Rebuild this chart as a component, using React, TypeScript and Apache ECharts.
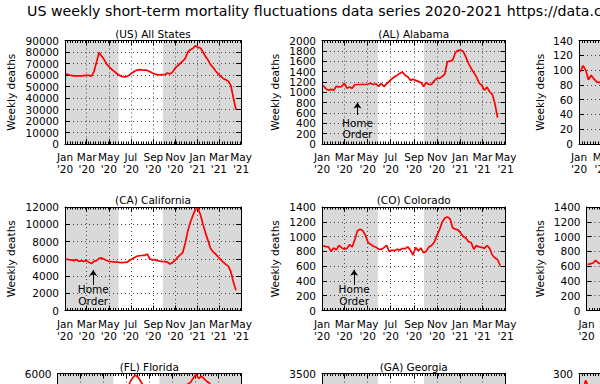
import React, { useEffect, useRef } from "react";
import * as echarts from "echarts";

const FONT = "DejaVu Sans";
const MAIN_TITLE =
  "US weekly short-term mortality fluctuations data series 2020-2021 https://data.cdc.gov/";
const MONTHS = ["Jan", "Feb", "Mar", "Apr", "May", "Jun", "Jul", "Aug", "Sep", "Oct", "Nov", "Dec"];

// x range and shading (dates)
const AXIS_START = "2020-01-01";
const AXIS_END = "2021-05-01";
const FIRST_WEEK = "2020-01-04";
const WHITE_START = "2020-05-28";
const WHITE_END = "2020-09-27";

// weekly deaths (week ending FIRST_WEEK, then every 7 days)
const US = [61000, 60200, 59600, 59300, 59200, 59300, 59200, 59400, 59600, 59700,
  59000, 63000, 71000, 79500, 76500, 73500, 69500, 67000, 65000, 63200,
  61300, 59700, 58800, 58400, 58600, 60000, 61800, 63300, 64300, 64600,
  64400, 64300, 64000, 63000, 61800, 60800, 60300, 60000, 60400, 60200,
  61700, 61000, 62500, 66000, 68000, 70000, 72000, 74500, 80000, 82000,
  83000, 85500, 84000, 83500, 80000, 76000, 73000, 69000, 66500, 63500,
  61000, 58800, 57000, 55800, 54500, 51000, 40000, 30000];
const AL = [1130, 1070, 1040, 1055, 1040, 1115, 1105, 1110, 1175, 1080,
  1100, 1075, 1145, 1150, 1150, 1150, 1150, 1160, 1175, 1150,
  1160, 1115, 1170, 1110, 1160, 1210, 1260, 1300, 1330, 1365,
  1390, 1330, 1300, 1230, 1250, 1230, 1210, 1190, 1110, 1190,
  1150, 1150, 1220, 1270, 1270, 1300, 1350, 1590, 1600, 1620,
  1760, 1810, 1810, 1790, 1680, 1560, 1460, 1380, 1300, 1180,
  1135, 1040, 1100, 1010, 960, 780, 510];
const AK = [97, 106, 100, 87, 93, 88, 84, 83, 86];
const CA = [5950, 5900, 5880, 5780, 5900, 5700, 5780, 5680, 5780, 5600,
  5450, 5700, 5780, 6050, 6100, 5950, 5800, 5700, 5650, 5640,
  5620, 5580, 5560, 5570, 5600, 5800, 5980, 6150, 6300, 6350,
  6380, 6380, 6550, 6000, 5850, 5900, 5780, 5720, 5680, 5660,
  5600, 5400, 5550, 5850, 6150, 6450, 6700, 7800, 9200, 10200,
  11000, 11700, 11850, 11100, 10000, 9000, 8100, 7200, 6800, 6550,
  6200, 5900, 5600, 5350, 5150, 4500, 3300, 2350];
const CO = [875, 865, 860, 800, 845, 820, 880, 850, 830, 840,
  890, 860, 960, 1080, 1100, 1080, 1020, 920, 895, 870,
  855, 830, 825, 850, 880, 800, 815, 810, 830, 815,
  840, 835, 860, 820, 750, 850, 810, 845, 780, 800,
  860, 880, 920, 1010, 1090, 1190, 1250, 1265, 1240, 1120,
  1100, 1090, 1050, 1000, 980, 930, 920, 830, 880, 860,
  855, 840, 880, 840, 750, 710, 690, 605];
const CT = [623, 630, 642, 678, 645, 630, 640];
const FL = [4500, 4550, 4600, 4550, 4500, 4600, 4550, 4500, 4450, 4500,
  4400, 4500, 4600, 4700, 4650, 4600, 4550, 4500, 4450, 4400,
  4350, 4300, 4350, 4400, 4500, 4700, 5000, 5500, 5750, 5900,
  5800, 5550, 5300, 5100, 4900, 4800, 4700, 4650, 4600, 4600,
  4650, 4700, 4750, 4800, 4900, 5000, 5100, 5200, 5300, 5400,
  5500, 5750, 5950, 5700, 5850, 5700, 5550, 5450, 5200, 5000,
  4900, 4800, 4750, 4700, 4650, 4500, 4000, 3200];
const GA = [1750, 1700, 1720, 1700, 1680, 1720, 1700, 1690, 1700, 1680,
  1650, 1700, 1800, 1850, 1820, 1780, 1750, 1720, 1700, 1680,
  1680, 1700, 1720, 1750, 1800, 1900, 2050, 2200, 2300, 2350,
  2300, 2250, 2150, 2050, 1950, 1900, 1850, 1800, 1780, 1800,
  1820, 1850, 1880, 1900, 1950, 2000, 2050, 2100, 2200, 2350,
  2500, 2600, 2650, 2650, 2600, 2500, 2400, 2300, 2200, 2100,
  2000, 1950, 1900, 1850, 1800, 1700, 1400, 1000];
const HI = [245, 255, 280, 260, 250, 240, 235, 245, 240, 230,
  235, 225, 230, 240, 235, 230, 225, 230, 235, 230,
  225, 230, 235, 230, 240, 235, 230, 240, 235, 245,
  240, 250, 255, 260, 250, 240, 245, 250, 245, 240,
  245, 250, 255, 250, 245, 250, 255, 260, 265, 270,
  260, 255, 250, 245, 240, 250, 245, 240, 235, 240,
  230, 225, 220, 210, 200, 180, 150];

type Panel = {
  title: string; showTitle: boolean; values: number[]; max: number; step: number;
  col: number; row: number;
  home?: { date: string; from: number; to: number; text: number };
};

const PANELS: Panel[] = [
  { title: "(US) All States", showTitle: true, values: US, max: 90000, step: 10000, col: 0, row: 0 },
  { title: "(AL) Alabama", showTitle: true, values: AL, max: 2000, step: 200, col: 1, row: 0,
    home: { date: "2020-04-04", from: 560, to: 800, text: 300 } },
  { title: "(AK) Alaska", showTitle: false, values: AK, max: 140, step: 20, col: 2, row: 0 },
  { title: "(CA) California", showTitle: true, values: CA, max: 12000, step: 2000, col: 0, row: 1,
    home: { date: "2020-03-19", from: 2950, to: 4700, text: 1800 } },
  { title: "(CO) Colorado", showTitle: true, values: CO, max: 1400, step: 200, col: 1, row: 1,
    home: { date: "2020-03-26", from: 345, to: 550, text: 210 } },
  { title: "(CT) Connecticut", showTitle: false, values: CT, max: 1400, step: 200, col: 2, row: 1 },
  { title: "(FL) Florida", showTitle: true, values: FL, max: 6000, step: 1000, col: 0, row: 2 },
  { title: "(GA) Georgia", showTitle: true, values: GA, max: 3500, step: 500, col: 1, row: 2 },
  { title: "(HI) Hawaii", showTitle: false, values: HI, max: 300, step: 50, col: 2, row: 2 },
];

const CELL_W = 264.5;
const ROW_TOPS = [40.5, 207, 373.5];
const PLOT_H = 103.5;
const GRAY = "#d9d9d9";
const GRID_COLOR = "#4a4a4a";

function buildDays(): string[] {
  const out: string[] = [];
  const [y0, m0, d0] = AXIS_START.split("-").map(Number);
  const [y1, m1, d1] = AXIS_END.split("-").map(Number);
  const end = Date.UTC(y1, m1 - 1, d1);
  for (let t = Date.UTC(y0, m0 - 1, d0); t <= end; t += 86400000) {
    out.push(new Date(t).toISOString().slice(0, 10));
  }
  return out;
}

function buildOption() {
  const days = buildDays();
  const firstWeekIdx = days.indexOf(FIRST_WEEK);
  const isMajor = (_i: number, v: string) =>
    v.endsWith("-01") && (Number(v.slice(5, 7)) - 1) % 2 === 0;
  const isInnerMajor = (i: number, v: string) => i > 0 && i < days.length - 1 && isMajor(i, v);
  const isMinor = (i: number) => i % 7 === 0;
  const fmt = (v: string) => MONTHS[Number(v.slice(5, 7)) - 1] + "\n'" + v.slice(2, 4);

  const titles: any[] = [
    {
      text: MAIN_TITLE, left: 27, top: 4, padding: 0,
      textStyle: { fontSize: 14.2, fontWeight: "normal", color: "#000", fontFamily: FONT },
    },
  ];
  const grids: any[] = [];
  const xAxes: any[] = [];
  const yAxes: any[] = [];
  const series: any[] = [];

  PANELS.forEach((p, k) => {
    const cellX = p.col * CELL_W;
    const digits = String(p.max).length;
    const left = cellX + 27.5 + 7.5 * digits;
    const right = cellX + 241;
    const top = ROW_TOPS[p.row];
    grids.push({
      left, top, width: right - left, height: PLOT_H,
      show: true, backgroundColor: GRAY, borderWidth: 0,
      containLabel: false, outerBoundsMode: "none",
    });
    if (p.showTitle) {
      titles.push({
        text: p.title, left: (left + right) / 2, top: top - 12.5, textAlign: "center", padding: 0,
        textStyle: { fontSize: 10.5, fontWeight: "normal", color: "#000", fontFamily: FONT },
      });
    }
    const xb = xAxes.length;
    const common = { type: "category", gridIndex: k, data: days, boundaryGap: false, z: 2, silent: true };
    xAxes.push({
      ...common, position: "bottom",
      axisLine: { show: true, onZero: false, lineStyle: { color: "#000", width: 1 } },
      axisTick: { show: true, inside: true, length: 5, interval: isMajor, lineStyle: { color: "#000" } },
      axisLabel: {
        show: true, interval: isMajor, formatter: fmt, fontSize: 10.5, lineHeight: 12,
        color: "#000", margin: 7, fontFamily: FONT, hideOverlap: false,
      },
      splitLine: { show: true, interval: isInnerMajor, lineStyle: { color: GRID_COLOR, width: 1, type: [1, 3] } },
    });
    xAxes.push({
      ...common, position: "bottom",
      axisLine: { show: false, onZero: false },
      axisTick: { show: true, inside: true, length: 2.5, interval: isMinor, lineStyle: { color: "#000" } },
      axisLabel: { show: false }, splitLine: { show: false },
    });
    xAxes.push({
      ...common, position: "top",
      axisLine: { show: true, onZero: false, lineStyle: { color: "#000", width: 1 } },
      axisTick: { show: true, inside: true, length: 5, interval: isMajor, lineStyle: { color: "#000" } },
      axisLabel: { show: false }, splitLine: { show: false },
    });
    xAxes.push({
      ...common, position: "top",
      axisLine: { show: false, onZero: false },
      axisTick: { show: true, inside: true, length: 2.5, interval: isMinor, lineStyle: { color: "#000" } },
      axisLabel: { show: false }, splitLine: { show: false },
    });
    const yb = yAxes.length;
    const even = (v: number) => Math.round(v / p.step) % 2 === 0;
    const yLabel = { fontSize: 10.5, color: "#000", margin: 6, fontFamily: FONT, hideOverlap: false };
    // left axis: line, ticks, grid, name and the labels of even steps
    yAxes.push({
      type: "value", gridIndex: k, position: "left", min: 0, max: p.max, interval: p.step, z: 2, silent: true,
      name: "Weekly deaths", nameLocation: "middle", nameGap: 11.5 + 7.5 * digits, nameRotate: 90,
      nameMoveOverlap: false,
      nameTextStyle: { fontSize: 10.5, color: "#000", fontFamily: FONT },
      axisLine: { show: true, onZero: false, lineStyle: { color: "#000", width: 1 } },
      axisTick: { show: true, inside: true, length: 5, lineStyle: { color: "#000" } },
      axisLabel: {
        ...yLabel, show: true, showMinLabel: true, showMaxLabel: even(p.max),
        formatter: (v: number) => (even(v) ? String(v) : ""),
      },
      splitLine: { show: true, lineStyle: { color: GRID_COLOR, width: 1, type: [1, 3] } },
    });
    // second left axis: the labels of odd steps only
    yAxes.push({
      type: "value", gridIndex: k, position: "left", min: 0, max: p.max, interval: p.step, z: 2, silent: true,
      axisLine: { show: false, onZero: false }, axisTick: { show: false }, splitLine: { show: false },
      axisLabel: {
        ...yLabel, show: true, showMinLabel: false, showMaxLabel: !even(p.max),
        formatter: (v: number) => (even(v) ? "" : String(v)),
      },
    });
    yAxes.push({
      type: "value", gridIndex: k, position: "right", min: 0, max: p.max, interval: p.step, z: 2, silent: true,
      axisLine: { show: true, onZero: false, lineStyle: { color: "#000", width: 1 } },
      axisTick: { show: true, inside: true, length: 5, lineStyle: { color: "#000" } },
      axisLabel: { show: false }, splitLine: { show: false },
    });
    const s: any = {
      type: "line", xAxisIndex: xb, yAxisIndex: yb, z: 3, silent: true,
      symbol: "none", showSymbol: false,
      lineStyle: { color: "#ff0000", width: 1.7 },
      data: p.values.map((v, i) => [days[firstWeekIdx + 7 * i], v]),
      markArea: {
        silent: true, itemStyle: { color: "#ffffff" },
        data: [[{ xAxis: days.indexOf(WHITE_START) }, { xAxis: days.indexOf(WHITE_END) }]],
      },
    };
    if (p.home) {
      const idx = days.indexOf(p.home.date);
      s.markLine = {
        silent: true, symbol: ["none", "arrow"], symbolSize: 6,
        label: { show: false },
        lineStyle: { color: "#000", width: 1, type: "solid" },
        data: [[{ coord: [idx, p.home.from] }, { coord: [idx, p.home.to] }]],
      };
      s.markPoint = {
        silent: true, symbol: "circle", symbolSize: 1,
        itemStyle: { color: "rgba(0,0,0,0)" },
        label: {
          show: true, position: "inside", formatter: "Home\nOrder", color: "#000",
          fontSize: 10.5, lineHeight: 11.5, fontFamily: FONT,
        },
        data: [{ coord: [idx, p.home.text] }],
      };
    }
    series.push(s);
  });

  return {
    animation: false,
    backgroundColor: "#ffffff",
    textStyle: { fontFamily: FONT },
    title: titles,
    grid: grids,
    xAxis: xAxes,
    yAxis: yAxes,
    series,
  };
}

export default function App() {
  const ref = useRef<HTMLDivElement>(null);
  useEffect(() => {
    if (!ref.current) return;
    const chart = echarts.init(ref.current, undefined, { renderer: "svg" });
    chart.setOption(buildOption() as any);
    return () => chart.dispose();
  }, []);
  return (
    <div
      ref={ref}
      style={{ position: "absolute", left: 0, top: 0, width: 600, height: 384, overflow: "hidden" }}
    />
  );
}
